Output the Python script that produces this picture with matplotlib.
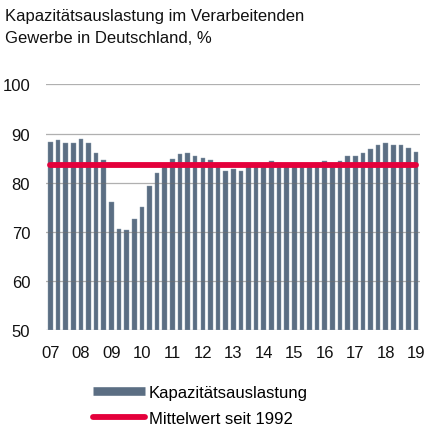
import numpy as np
import matplotlib.pyplot as plt
from matplotlib.lines import Line2D

plt.rcParams['font.family'] = ['Liberation Sans', 'DejaVu Sans']

# quarterly capacity utilisation, 2007Q1 .. 2019Q1
auslastung = [
    88.2, 88.7, 88.0, 88.0,   # 2007
    88.8, 88.0, 86.1, 84.6,   # 2008
    76.1, 70.5, 70.4, 72.5,   # 2009
    75.0, 79.4, 82.0, 83.1,   # 2010
    84.9, 85.8, 86.0, 85.4,   # 2011
    85.0, 84.6, 83.1, 82.3,   # 2012
    82.8, 82.3, 83.5, 83.7,   # 2013
    83.8, 84.4, 83.9, 83.8,   # 2014
    83.9, 83.9, 83.8, 83.9,   # 2015
    84.5, 83.9, 84.5, 85.4,   # 2016
    85.5, 86.1, 86.9, 87.6,   # 2017
    88.0, 87.6, 87.6, 87.0,   # 2018
    86.2,                     # 2019
]
mittelwert = 83.55
jahre = ['07', '08', '09', '10', '11', '12', '13', '14', '15', '16', '17', '18', '19']

bar_color = '#5b6e83'
red = '#e4003b'

fig = plt.figure(figsize=(4.27, 4.27), dpi=100)
ax = fig.add_axes([0.108, 0.225, 0.876, 0.575])

x = np.arange(len(auslastung))
ax.bar(x, np.array(auslastung) - 50, bottom=50, width=0.6, color=bar_color,
       edgecolor='#8a9aab', linewidth=0.3, zorder=2)
ax.plot([0, len(auslastung) - 1], [mittelwert, mittelwert], color=red, lw=4.2,
        solid_capstyle='round', zorder=4)

ax.set_ylim(50, 100)
ax.set_xlim(-0.56, len(auslastung) - 1 + 0.52)
ax.set_yticks(range(50, 101, 10))
ax.set_xticks(x[::4])
ax.set_xticklabels(jahre)
ax.tick_params(length=0, labelsize=12, colors='#111111')
ax.tick_params(axis='y', pad=11.5)
ax.tick_params(axis='x', pad=11)
for s in ax.spines.values():
    s.set_visible(False)
# grid lines sit on top of the bars, semi-transparent grey
for v in range(50, 101, 10):
    ax.axhline(v, color='#6f6f6f', lw=0.9, alpha=0.55, zorder=3)

fig.text(0.012, 0.979, 'Kapazitätsauslastung im Verarbeitenden\nGewerbe in Deutschland, %',
         ha='left', va='top', fontsize=12, color='#111111', linespacing=1.55)

handles = [
    Line2D([], [], color=bar_color, lw=6.2, solid_capstyle='butt'),
    Line2D([], [], color=red, lw=4.2, solid_capstyle='round'),
]
fig.legend(handles, ['Kapazitätsauslastung', 'Mittelwert seit 1992'],
           loc='upper left', bbox_to_anchor=(0.218, 0.097), frameon=False,
           fontsize=12, handlelength=3.1, handletextpad=0.25, labelspacing=0.68,
           borderpad=0, borderaxespad=0)

fig.savefig('out.png', dpi=100)
